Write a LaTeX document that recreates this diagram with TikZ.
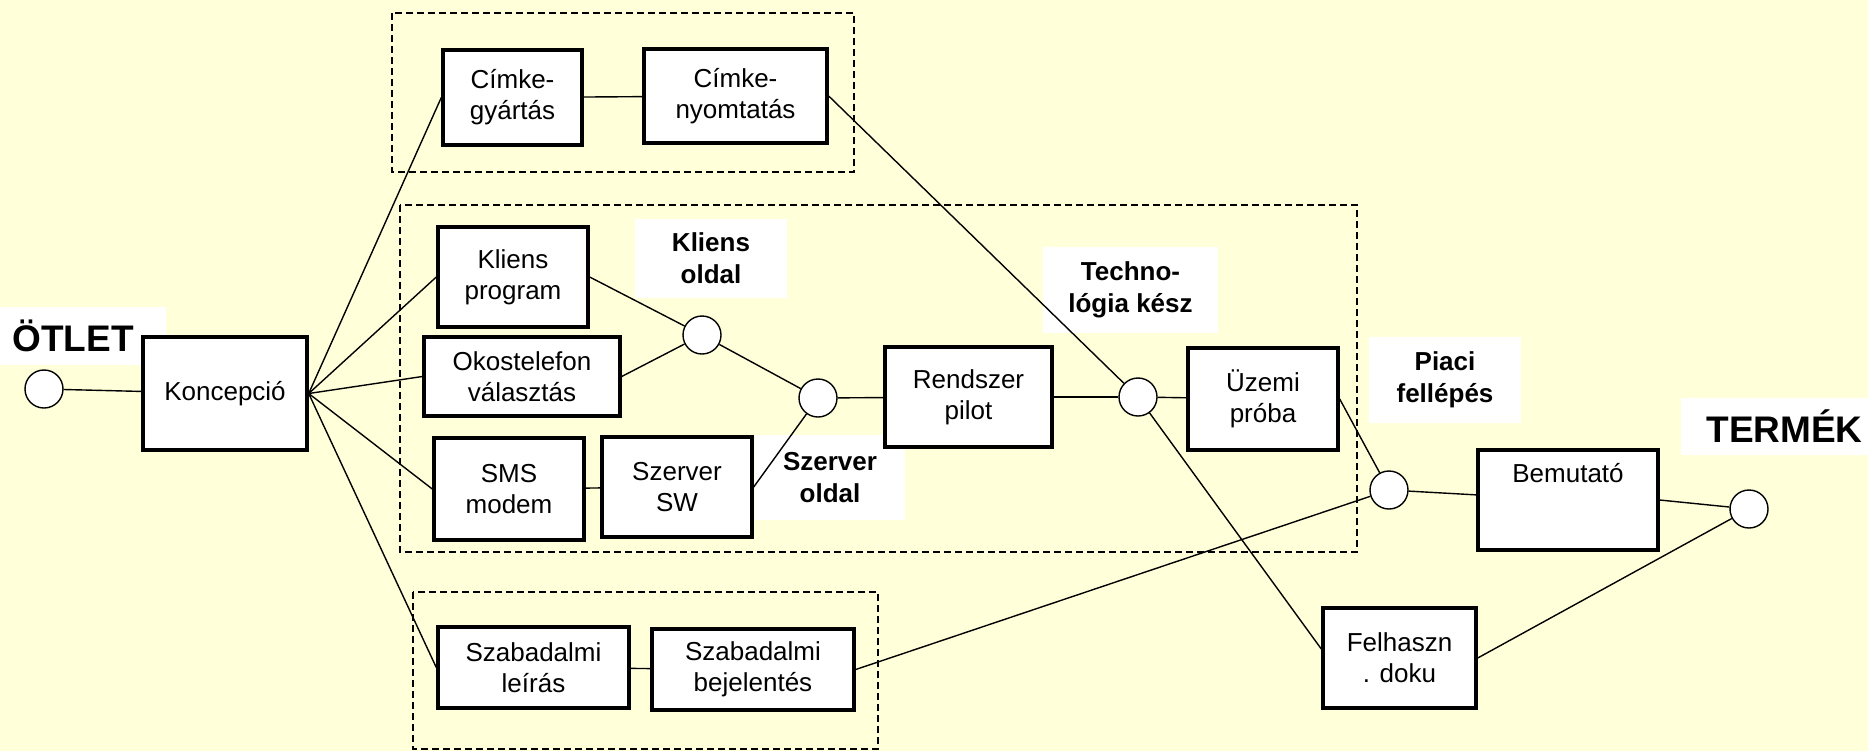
\documentclass[tikz,border=0pt]{standalone}
\usepackage{fontspec}
\setmainfont{Liberation Sans}
\usetikzlibrary{arrows,shapes}
\pgfdeclarelayer{background}
\pgfsetlayers{background,main}
\definecolor{paper}{RGB}{255,255,218}
\tikzstyle{task}=[rectangle, draw, line width=1.7pt
,fill=white
,align=center
,inner sep=2pt
,font=\fontsize{13}{15.5}\selectfont
]
\tikzstyle{event}=[circle, draw, line width=0.7pt
,fill=white
,minimum size=19pt
,inner sep=0pt
]
\tikzstyle{milestone}=[rectangle, fill=white, align=center, inner sep=0pt
,font=\bfseries\fontsize{13}{16}\selectfont
]
\tikzstyle{endpoint}=[milestone, inner xsep=2.5pt, font=\bfseries\fontsize{18.5}{22}\selectfont]
\tikzstyle{group}=[draw, line width=0.7pt, dash pattern=on 3.5pt off 2pt]
\tikzstyle{edge} = [draw, line width=0.7pt, -]

\begin{document}
\begin{tikzpicture}[x=50pt,y=-50pt]
    % Yellow paper behind everything
    \begin{pgfonlayer}{background}
        \fill[paper] (0,0) rectangle (18.68,7.51);
    \end{pgfonlayer}
    \useasboundingbox (0,0) rectangle (18.68,7.51);

    % White labels of the milestones
    \node[endpoint, anchor=west, text width=71pt, align=left, minimum height=29pt, inner xsep=6pt] (otletlbl) at (0,3.36) {ÖTLET};
    \node[endpoint, anchor=east, text width=88.5pt, align=right, minimum height=28.5pt] (termeklbl) at (18.68,4.265) {TERMÉK};
    \node[milestone, minimum width=76pt, minimum height=39.5pt] (koldlbl) at (7.11,2.585) {Kliens\\oldal};
    \node[milestone, minimum width=75pt, minimum height=42.5pt] (szoldlbl) at (8.30,4.775) {Szerver\\oldal};
    \node[milestone, minimum width=87.5pt, minimum height=43pt] (techlbl) at (11.305,2.90) {Techno-\\lógia kész};
    \node[milestone, minimum width=76pt, minimum height=43pt] (piacilbl) at (14.45,3.80) {Piaci\\fellépés};

    % Dashed groups
    \draw[group] (3.92,0.13) rectangle (8.54,1.72);
    \draw[group] (4.00,2.05) rectangle (13.57,5.52);
    \draw[group] (4.13,5.92) rectangle (8.78,7.49);

    % First we draw the tasks
    \node[task, minimum width=82pt, minimum height=56.5pt] (konc) at (2.25,3.935) {Koncepció};
    \node[task, minimum width=69.5pt, minimum height=47.5pt] (cgyart) at (5.125,0.975) {Címke-\\gyártás};
    \node[task, minimum width=91.5pt, minimum height=47pt] (cnyomt) at (7.355,0.96) {Címke-\\nyomtatás};
    \node[task, minimum width=75pt, minimum height=50pt] (kprog) at (5.13,2.77) {Kliens\\program};
    \node[task, minimum width=98pt, minimum height=39.5pt] (okos) at (5.22,3.765) {Okostelefon\\választás};
    \node[task, minimum width=75pt, minimum height=51pt] (sms) at (5.09,4.89) {SMS\\modem};
    \node[task, minimum width=75pt, minimum height=50pt] (szsw) at (6.77,4.87) {Szerver\\SW};
    \node[task, minimum width=83.5pt, minimum height=50pt] (rpilot) at (9.685,3.97) {Rendszer\\pilot};
    \node[task, minimum width=75pt, minimum height=51pt] (uzemi) at (12.63,3.99) {Üzemi\\próba};
    \node[task, minimum width=90pt, minimum height=50pt] (bemut) at (15.68,5.00) {Bemutató\\[12pt]~};
    \node[task, minimum width=76.5pt, minimum height=50pt] (felh) at (13.995,6.58) {Felhaszn\\. doku};
    \node[task, minimum width=95.5pt, minimum height=40.5pt] (szleir) at (5.335,6.675) {Szabadalmi\\leírás};
    \node[task, minimum width=101pt, minimum height=40.5pt] (szbej) at (7.53,6.695) {Szabadalmi\\bejelentés};

    % Then the events
    \foreach \pos/\name in {{(0.44,3.89)/otlet}, {(7.02,3.35)/kold}, {(8.18,3.98)/jn}, {(11.38,3.97)/tech}, {(13.89,4.90)/piaci}, {(17.49,5.09)/termek}}
        \node[event] (\name) at \pos {};

    % Connect tasks and events with edges
    \foreach \source/ \dest in {otlet/konc, konc.east/cgyart.west, konc.east/kprog.west, konc.east/okos.west, konc.east/sms.west, konc.east/szleir.west, cgyart/cnyomt, cnyomt.east/tech, kprog.east/kold, okos.east/kold, kold/jn, sms/szsw, szsw.east/jn, jn/rpilot, rpilot/tech, tech/uzemi, uzemi.east/piaci, szleir/szbej, szbej.east/piaci, piaci/bemut, bemut.east/termek, felh.east/termek}
        \path[edge] (\source) -- (\dest) ;
    \path[edge] (tech) -- ([yshift=4.5pt]felh.west) ;

\end{tikzpicture}
\end{document}
